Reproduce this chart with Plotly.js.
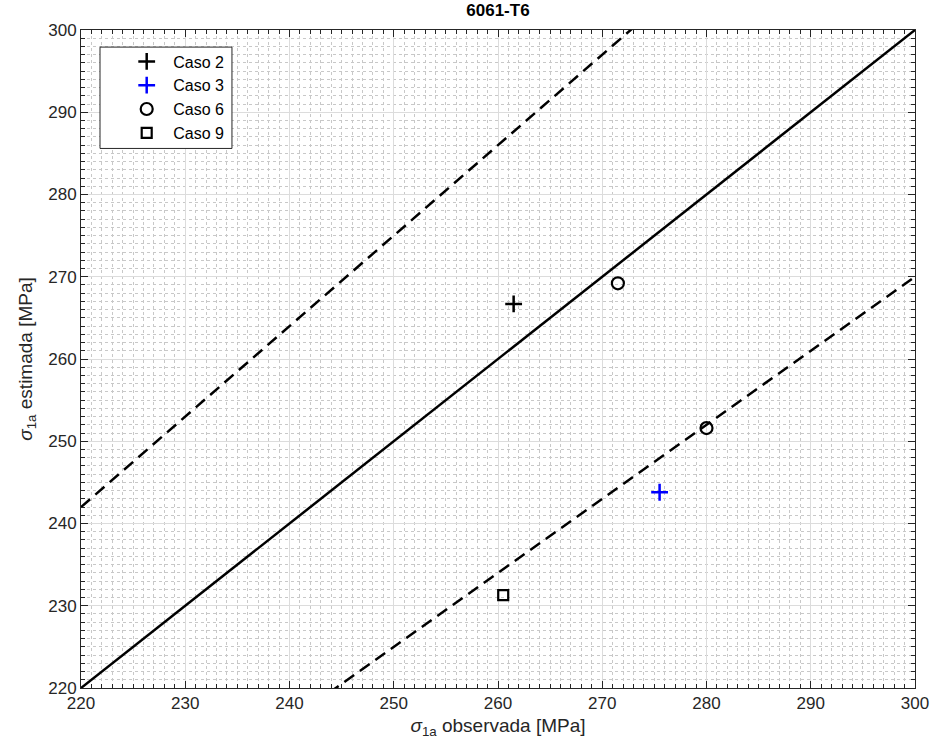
<!DOCTYPE html>
<html>
<head>
<meta charset="utf-8">
<script src="https://cdn.plot.ly/plotly-3.0.1.min.js"></script>
<style>html,body{margin:0;padding:0;background:#fff;}#chart{width:936px;height:755px;}</style>
</head>
<body>
<div id="chart"></div>
<script>
// Data
const caso2X = [261.5];
const caso2Y = [266.7];
const caso3X = [275.5];
const caso3Y = [243.8];
const caso6X = [271.5, 280.0];
const caso6Y = [269.2, 251.6];
const caso9X = [260.5];
const caso9Y = [231.3];

// Reference lines (y = x, y = 1.1x, y = 0.9x) endpoints
const refX = [220, 300];
const diagY = [220, 300];
const upperY = [242, 330];
const lowerY = [198, 270];

const tickVals = [220, 230, 240, 250, 260, 270, 280, 290, 300];

const FONT = 'Liberation Sans, Arial, sans-serif';

const traces = [
  {x: refX, y: diagY, mode: 'lines', line: {color: '#000', width: 2.5}, showlegend: false, hoverinfo: 'skip'},
  {x: refX, y: upperY, mode: 'lines', line: {color: '#000', width: 2.5, dash: '12px,7px'}, showlegend: false, hoverinfo: 'skip'},
  {x: refX, y: lowerY, mode: 'lines', line: {color: '#000', width: 2.5, dash: '12px,7px'}, showlegend: false, hoverinfo: 'skip'},
  {x: caso2X, y: caso2Y, mode: 'markers', name: 'Caso 2',
   marker: {symbol: 'cross-thin', size: 12, color: '#000', line: {color: '#000', width: 2.5}}},
  {x: caso3X, y: caso3Y, mode: 'markers', name: 'Caso 3',
   marker: {symbol: 'cross-thin', size: 12, color: '#0000ff', line: {color: '#0000ff', width: 2.5}}},
  {x: caso6X, y: caso6Y, mode: 'markers', name: 'Caso 6',
   marker: {symbol: 'circle-open', size: 12, color: '#000', line: {color: '#000', width: 2.2}}},
  {x: caso9X, y: caso9Y, mode: 'markers', name: 'Caso 9',
   marker: {symbol: 'square-open', size: 10, color: '#000', line: {color: '#000', width: 2.2}}}
];

function axis(titleText, standoff) {
  return {
    range: [220, 300],
    tickvals: tickVals,
    ticktext: tickVals.map(String),
    ticks: 'inside',
    ticklen: 7,
    tickwidth: 1,
    tickcolor: '#262626',
    showline: true,
    linecolor: '#262626',
    linewidth: 1,
    mirror: 'ticks',
    showgrid: true,
    gridcolor: '#dcdcdc',
    gridwidth: 1,
    zeroline: false,
    automargin: false,
    tickfont: {family: FONT, size: 17, color: '#262626'},
    minor: {dtick: 1, tick0: 220, ticks: 'inside', ticklen: 4, tickcolor: '#262626',
            showgrid: true, gridcolor: '#c8c8c8', griddash: 'dot', gridwidth: 1},
    title: {text: titleText, standoff: standoff,
            font: {family: FONT, size: 19, color: '#262626'}},
    fixedrange: true
  };
}

const layout = {
  width: 936, height: 755,
  margin: {l: 81, r: 21, t: 30, b: 67},
  paper_bgcolor: '#fff',
  plot_bgcolor: '#fff',
  title: {text: '<b>6061-T6</b>', x: 0.532, xanchor: 'center', y: 0.995, yanchor: 'top',
          font: {family: FONT, size: 17, color: '#000'}},
  xaxis: axis('<i>σ</i><sub>1a</sub> observada [MPa]', 6),
  yaxis: axis('<i>σ</i><sub>1a</sub> estimada [MPa]', 10),
  legend: {x: 0.047, y: 0.978, xanchor: 'left', yanchor: 'top',
           bgcolor: 'rgba(0,0,0,0)', borderwidth: 0, itemwidth: 43,
           font: {family: FONT, size: 16, color: '#000'}},
  shapes: [{type: 'rect', xref: 'paper', yref: 'paper', layer: 'above',
            x0: 0.0228, x1: 0.181, y0: 0.82, y1: 0.974,
            fillcolor: '#fff', line: {color: '#262626', width: 1}}],
  showlegend: true
};

Plotly.newPlot('chart', traces, layout, {displayModeBar: false, staticPlot: true});
</script>
</body>
</html>
